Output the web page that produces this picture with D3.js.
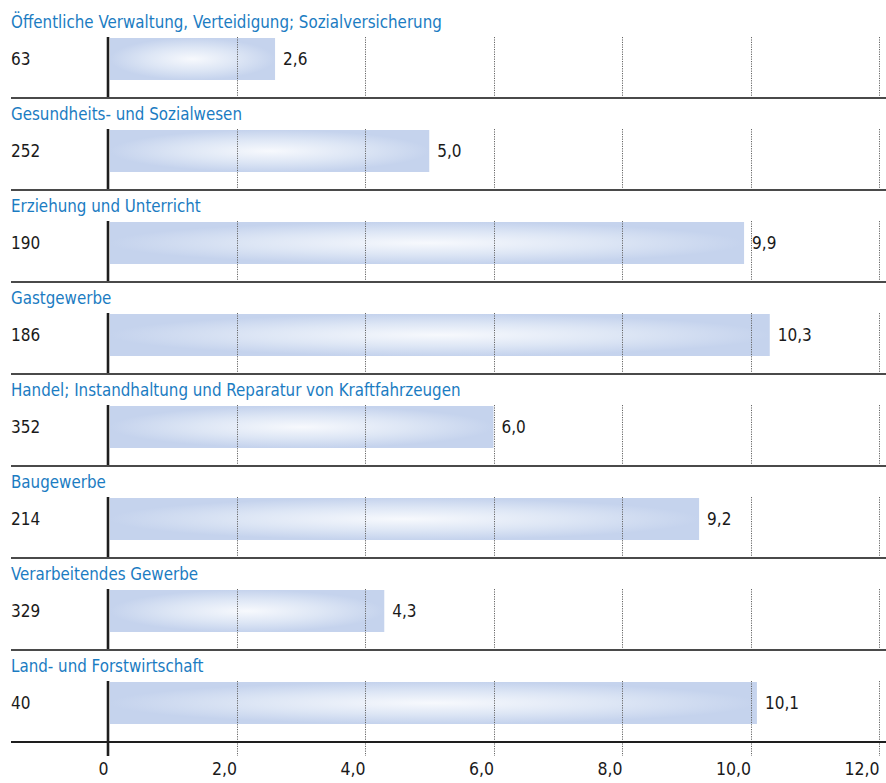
<!DOCTYPE html>
<html><head><meta charset="utf-8">
<script src="https://cdn.jsdelivr.net/npm/d3@7"></script>
<style>html,body{margin:0;padding:0;background:#fff;}svg{display:block;}</style>
</head><body>
<svg id="c" width="886" height="783"></svg>
<script>
const categories = [
  "Öffentliche Verwaltung, Verteidigung; Sozialversicherung",
  "Gesundheits- und Sozialwesen",
  "Erziehung und Unterricht",
  "Gastgewerbe",
  "Handel; Instandhaltung und Reparatur von Kraftfahrzeugen",
  "Baugewerbe",
  "Verarbeitendes Gewerbe",
  "Land- und Forstwirtschaft"
];
const counts = [63, 252, 190, 186, 352, 214, 329, 40];
const values = [2.6, 5.0, 9.9, 10.3, 6.0, 9.2, 4.3, 10.1];
const ticks = [0, 2, 4, 6, 8, 10, 12];

const FONT = "'Liberation Sans Narrow','DejaVu Sans Condensed','Open Sans',sans-serif";
const svg = d3.select("#c");
const x = d3.scaleLinear().domain([0, 12]).range([108, 879]);
const y = d3.scaleBand().domain(categories).range([6, 742]).paddingInner(0);
const bw = y.bandwidth();
const barOff = 32, barH = 42;

const defs = svg.append("defs");
const grad = defs.append("radialGradient").attr("id", "bg")
  .attr("cx", 0.5).attr("cy", 0.5).attr("r", 0.5);
grad.append("stop").attr("offset", "0%").attr("stop-color", "#f7f9fd");
grad.append("stop").attr("offset", "55%").attr("stop-color", "#dde6f5");
grad.append("stop").attr("offset", "100%").attr("stop-color", "#c5d3ed");

const data = categories.map((c, i) => ({c, n: counts[i], v: values[i], i}));
const last = categories.length - 1;

// bars
svg.append("g").selectAll("rect").data(data).join("rect")
  .attr("x", x(0) + 2).attr("y", d => y(d.c) + barOff)
  .attr("width", d => x(d.v) - x(0) - 2).attr("height", barH)
  .attr("fill", "url(#bg)");

// dotted grid per group
const gg = svg.append("g");
data.forEach(d => {
  const y0 = y(d.c) + barOff - 1;
  const y1 = d.i === last ? 756 : y(d.c) + bw;
  gg.selectAll(null).data(ticks.filter(t => t > 0)).join("line")
    .attr("x1", t => Math.round(x(t)) + 0.5).attr("x2", t => Math.round(x(t)) + 0.5)
    .attr("y1", y0).attr("y2", y1)
    .attr("stroke", "#666").attr("stroke-width", 1).attr("stroke-dasharray", "1.2,1.2");
  gg.append("line").attr("x1", x(0)).attr("x2", x(0))
    .attr("y1", y0).attr("y2", y1)
    .attr("stroke", "#1e1e1e").attr("stroke-width", 2.6);
});

// separators
svg.append("g").selectAll("line").data(data).join("line")
  .attr("x1", 11).attr("x2", 886)
  .attr("y1", d => y(d.c) + bw).attr("y2", d => y(d.c) + bw)
  .attr("stroke", d => d.i === last ? "#1e1e1e" : "#4a4a4a").attr("stroke-width", 2);

// titles
svg.append("g").selectAll("text").data(data).join("text")
  .attr("x", 11).attr("y", d => y(d.c) + 22)
  .attr("fill", "#1b7cc2").attr("font-family", FONT).attr("font-size", 16.8)
  .text(d => d.c);

// counts
svg.append("g").selectAll("text").data(data).join("text")
  .attr("x", 11).attr("y", d => y(d.c) + barOff + barH / 2 + 6)
  .attr("fill", "#1a1a1a").attr("font-family", FONT).attr("font-size", 17)
  .text(d => d.n);

// value labels
const fmt = v => d3.format(".1f")(v).replace(".", ",");
svg.append("g").selectAll("text").data(data).join("text")
  .attr("x", d => x(d.v) + 8).attr("y", d => y(d.c) + barOff + barH / 2 + 6)
  .attr("fill", "#1a1a1a").attr("font-family", FONT).attr("font-size", 17)
  .text(d => fmt(d.v));

// x axis labels
const ax = svg.append("g").attr("transform", "translate(0,763)")
  .call(d3.axisBottom(x).tickValues(ticks).tickSize(0).tickPadding(0)
    .tickFormat(t => t === 0 ? "0" : fmt(t)));
ax.select(".domain").remove();
ax.selectAll("text").attr("text-anchor", "end").attr("dy", "0.71em")
  .attr("font-family", FONT).attr("font-size", 17.5).attr("fill", "#1a1a1a");
</script>
</body></html>
